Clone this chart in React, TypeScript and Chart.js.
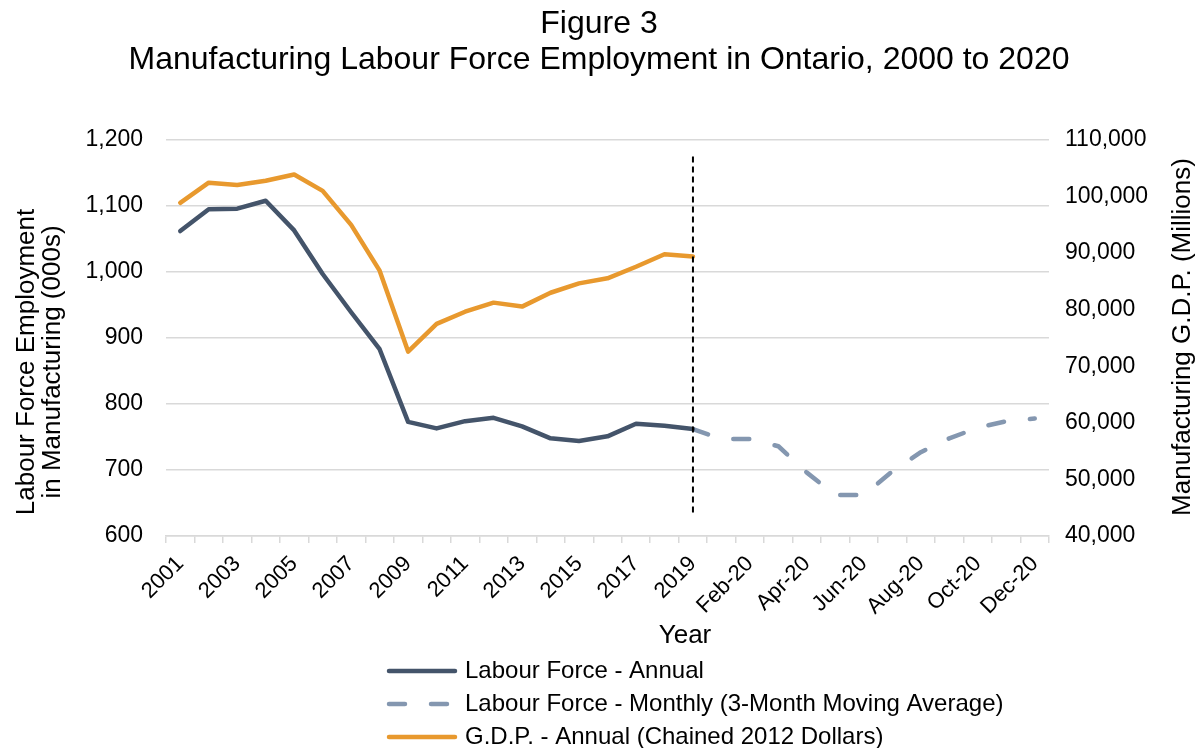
import React, { useEffect, useRef } from 'react';
import { Chart, registerables } from 'chart.js';

Chart.register(...registerables);

const FONT = "'Liberation Sans', Arial, Helvetica, sans-serif";

// ---- Data ----
const years = ['2001', '2002', '2003', '2004', '2005', '2006', '2007', '2008', '2009', '2010',
  '2011', '2012', '2013', '2014', '2015', '2016', '2017', '2018', '2019'];
const months = ['Jan-20', 'Feb-20', 'Mar-20', 'Apr-20', 'May-20', 'Jun-20', 'Jul-20', 'Aug-20',
  'Sep-20', 'Oct-20', 'Nov-20', 'Dec-20'];

// Labour force employment in manufacturing (000s), annual 2001-2019
const labourAnnual = [1062, 1095, 1096, 1108, 1063, 997, 939, 883, 773, 763,
  774, 779, 766, 748, 744, 751, 770, 767, 762];
// 3-month moving average, starting at the 2019 annual point, then Jan-20 .. Dec-20
const labourMonthly = [762, 747, 747, 736, 696, 662, 662, 698, 727, 748, 764, 774, 778];
// Manufacturing GDP (millions, chained 2012 dollars), annual 2001-2019
const gdpAnnual = [98900, 102450, 102050, 102800, 103900, 101000, 95000, 86900, 72600, 77500,
  79650, 81250, 80550, 83000, 84650, 85550, 87600, 89800, 89400];

const leftMin = 600;
const leftMax = 1200;
const leftStep = 100;
const rightMin = 40000;
const rightMax = 110000;
const rightStep = 10000;

const markerLabel = '2019';
const markerTop = 1175;
const markerBottom = 633;

const titleLines = ['Figure 3', 'Manufacturing Labour Force Employment in Ontario, 2000 to 2020'];
const leftTitle = ['Labour Force Employment', 'in Manufacturing (000s)'];
const rightTitle = 'Manufacturing G.D.P. (Millions)';
const xTitle = 'Year';
const seriesNames = [
  'Labour Force - Annual',
  'Labour Force - Monthly (3-Month Moving Average)',
  'G.D.P. - Annual (Chained 2012 Dollars)',
];

const DARK = '#44546A';
const LIGHT = '#8497B0';
const ORANGE = '#E8992E';
const GRID = '#D9D9D9';

const fmt = (v: number) => Number(v).toLocaleString('en-US');

const overlayPlugin = {
  id: 'overlay',
  afterDatasetsDraw(chart: any) {
    const { ctx, scales } = chart;
    const x = scales.x;
    const y = scales.y;
    const labels = chart.data.labels as string[];
    const xi = x.getPixelForValue(labels.indexOf(markerLabel));
    ctx.save();
    ctx.strokeStyle = '#000';
    ctx.lineWidth = 2;
    ctx.setLineDash([6, 4]);
    ctx.beginPath();
    ctx.moveTo(xi, y.getPixelForValue(markerTop));
    ctx.lineTo(xi, y.getPixelForValue(markerBottom));
    ctx.stroke();
    ctx.restore();
  },
  afterDraw(chart: any) {
    const { ctx } = chart;
    ctx.save();
    ctx.fillStyle = '#000';
    ctx.font = `26px ${FONT}`;
    ctx.textAlign = 'center';
    ctx.textBaseline = 'middle';

    // left axis title
    ctx.save();
    ctx.translate(27, 362);
    ctx.rotate(-Math.PI / 2);
    ctx.fillText(leftTitle[0], 0, 0);
    ctx.fillText(leftTitle[1], 0, 26);
    ctx.restore();

    // right axis title
    ctx.save();
    ctx.translate(1183, 337);
    ctx.rotate(-Math.PI / 2);
    ctx.fillText(rightTitle, 0, 0);
    ctx.restore();

    // x axis title
    ctx.fillText(xTitle, 685, 636);

    // legend
    ctx.font = `24px ${FONT}`;
    const rows = [671, 704, 737];
    chart.data.datasets.forEach((ds: any, i: number) => {
      const yy = rows[i];
      ctx.save();
      ctx.strokeStyle = ds.borderColor;
      ctx.lineWidth = ds.borderWidth;
      ctx.lineCap = 'round';
      ctx.setLineDash(ds.borderDash || []);
      ctx.beginPath();
      ctx.moveTo(389, yy);
      ctx.lineTo(455, yy);
      ctx.stroke();
      ctx.restore();
      ctx.textAlign = 'left';
      ctx.fillText(seriesNames[i], 465, yy);
    });
    ctx.restore();
  },
};

export default function App() {
  const canvasRef = useRef<HTMLCanvasElement | null>(null);

  useEffect(() => {
    const canvas = canvasRef.current;
    if (!canvas) return;
    const labels = [...years, ...months];
    const pad = (arr: number[], before: number, total: number) => {
      const out: (number | null)[] = [];
      for (let i = 0; i < before; i++) out.push(null);
      arr.forEach((v) => out.push(v));
      while (out.length < total) out.push(null);
      return out;
    };
    const n = labels.length;
    const startMonthly = years.indexOf(markerLabel);

    const chart = new Chart(canvas, {
      type: 'line',
      data: {
        labels,
        datasets: [
          {
            label: seriesNames[0],
            data: pad(labourAnnual, 0, n),
            yAxisID: 'y',
            borderColor: DARK,
            backgroundColor: DARK,
            borderWidth: 4.5,
            pointRadius: 0,
            borderJoinStyle: 'round',
            borderCapStyle: 'round',
            spanGaps: false,
          },
          {
            label: seriesNames[1],
            data: pad(labourMonthly, startMonthly, n),
            yAxisID: 'y',
            borderColor: LIGHT,
            backgroundColor: LIGHT,
            borderWidth: 4.5,
            borderDash: [16, 26],
            pointRadius: 0,
            borderJoinStyle: 'round',
            borderCapStyle: 'round',
          },
          {
            label: seriesNames[2],
            data: pad(gdpAnnual, 0, n),
            yAxisID: 'y1',
            borderColor: ORANGE,
            backgroundColor: ORANGE,
            borderWidth: 4.5,
            pointRadius: 0,
            borderJoinStyle: 'round',
            borderCapStyle: 'round',
          },
        ],
      } as any,
      options: {
        animation: false,
        responsive: false,
        maintainAspectRatio: false,
        layout: { padding: 0 },
        plugins: {
          legend: { display: false },
          tooltip: { enabled: false },
          title: {
            display: true,
            text: titleLines,
            color: '#000',
            font: { family: FONT, size: 32, weight: 'normal', lineHeight: 1.125 },
            padding: { top: 6, bottom: 62 },
          },
        },
        scales: {
          x: {
            type: 'category',
            offset: true,
            grid: {
              offset: true,
              drawOnChartArea: false,
              drawTicks: true,
              tickLength: 7,
              color: GRID,
              lineWidth: 1.5,
            },
            border: { display: true, color: GRID, width: 1.5 },
            ticks: {
              autoSkip: false,
              maxRotation: 45,
              minRotation: 45,
              padding: 8,
              color: '#000',
              font: { family: FONT, size: 22 },
              callback: (_v: any, i: number) => (i % 2 === 0 ? labels[i] : ''),
            },
            afterFit: (s: any) => {
              s.height = 212;
            },
          },
          y: {
            position: 'left',
            min: leftMin,
            max: leftMax,
            grid: { color: GRID, lineWidth: 1.5, drawTicks: false },
            border: { display: false },
            ticks: {
              stepSize: leftStep,
              padding: 23,
              color: '#000',
              font: { family: FONT, size: 23 },
              callback: (v: any) => fmt(v),
            },
            afterFit: (s: any) => {
              s.width = 166;
            },
          },
          y1: {
            position: 'right',
            min: rightMin,
            max: rightMax,
            grid: { drawOnChartArea: false, drawTicks: false },
            border: { display: false },
            ticks: {
              stepSize: rightStep,
              padding: 16,
              color: '#000',
              font: { family: FONT, size: 23 },
              callback: (v: any) => fmt(v),
            },
            afterFit: (s: any) => {
              s.width = 149;
            },
          },
        },
      } as any,
      plugins: [overlayPlugin],
    });
    return () => chart.destroy();
  }, []);

  return (
    <div style={{ position: 'absolute', left: 0, top: 0, width: 1198, height: 748, background: '#fff' }}>
      <canvas ref={canvasRef} width={1198} height={748} />
    </div>
  );
}
